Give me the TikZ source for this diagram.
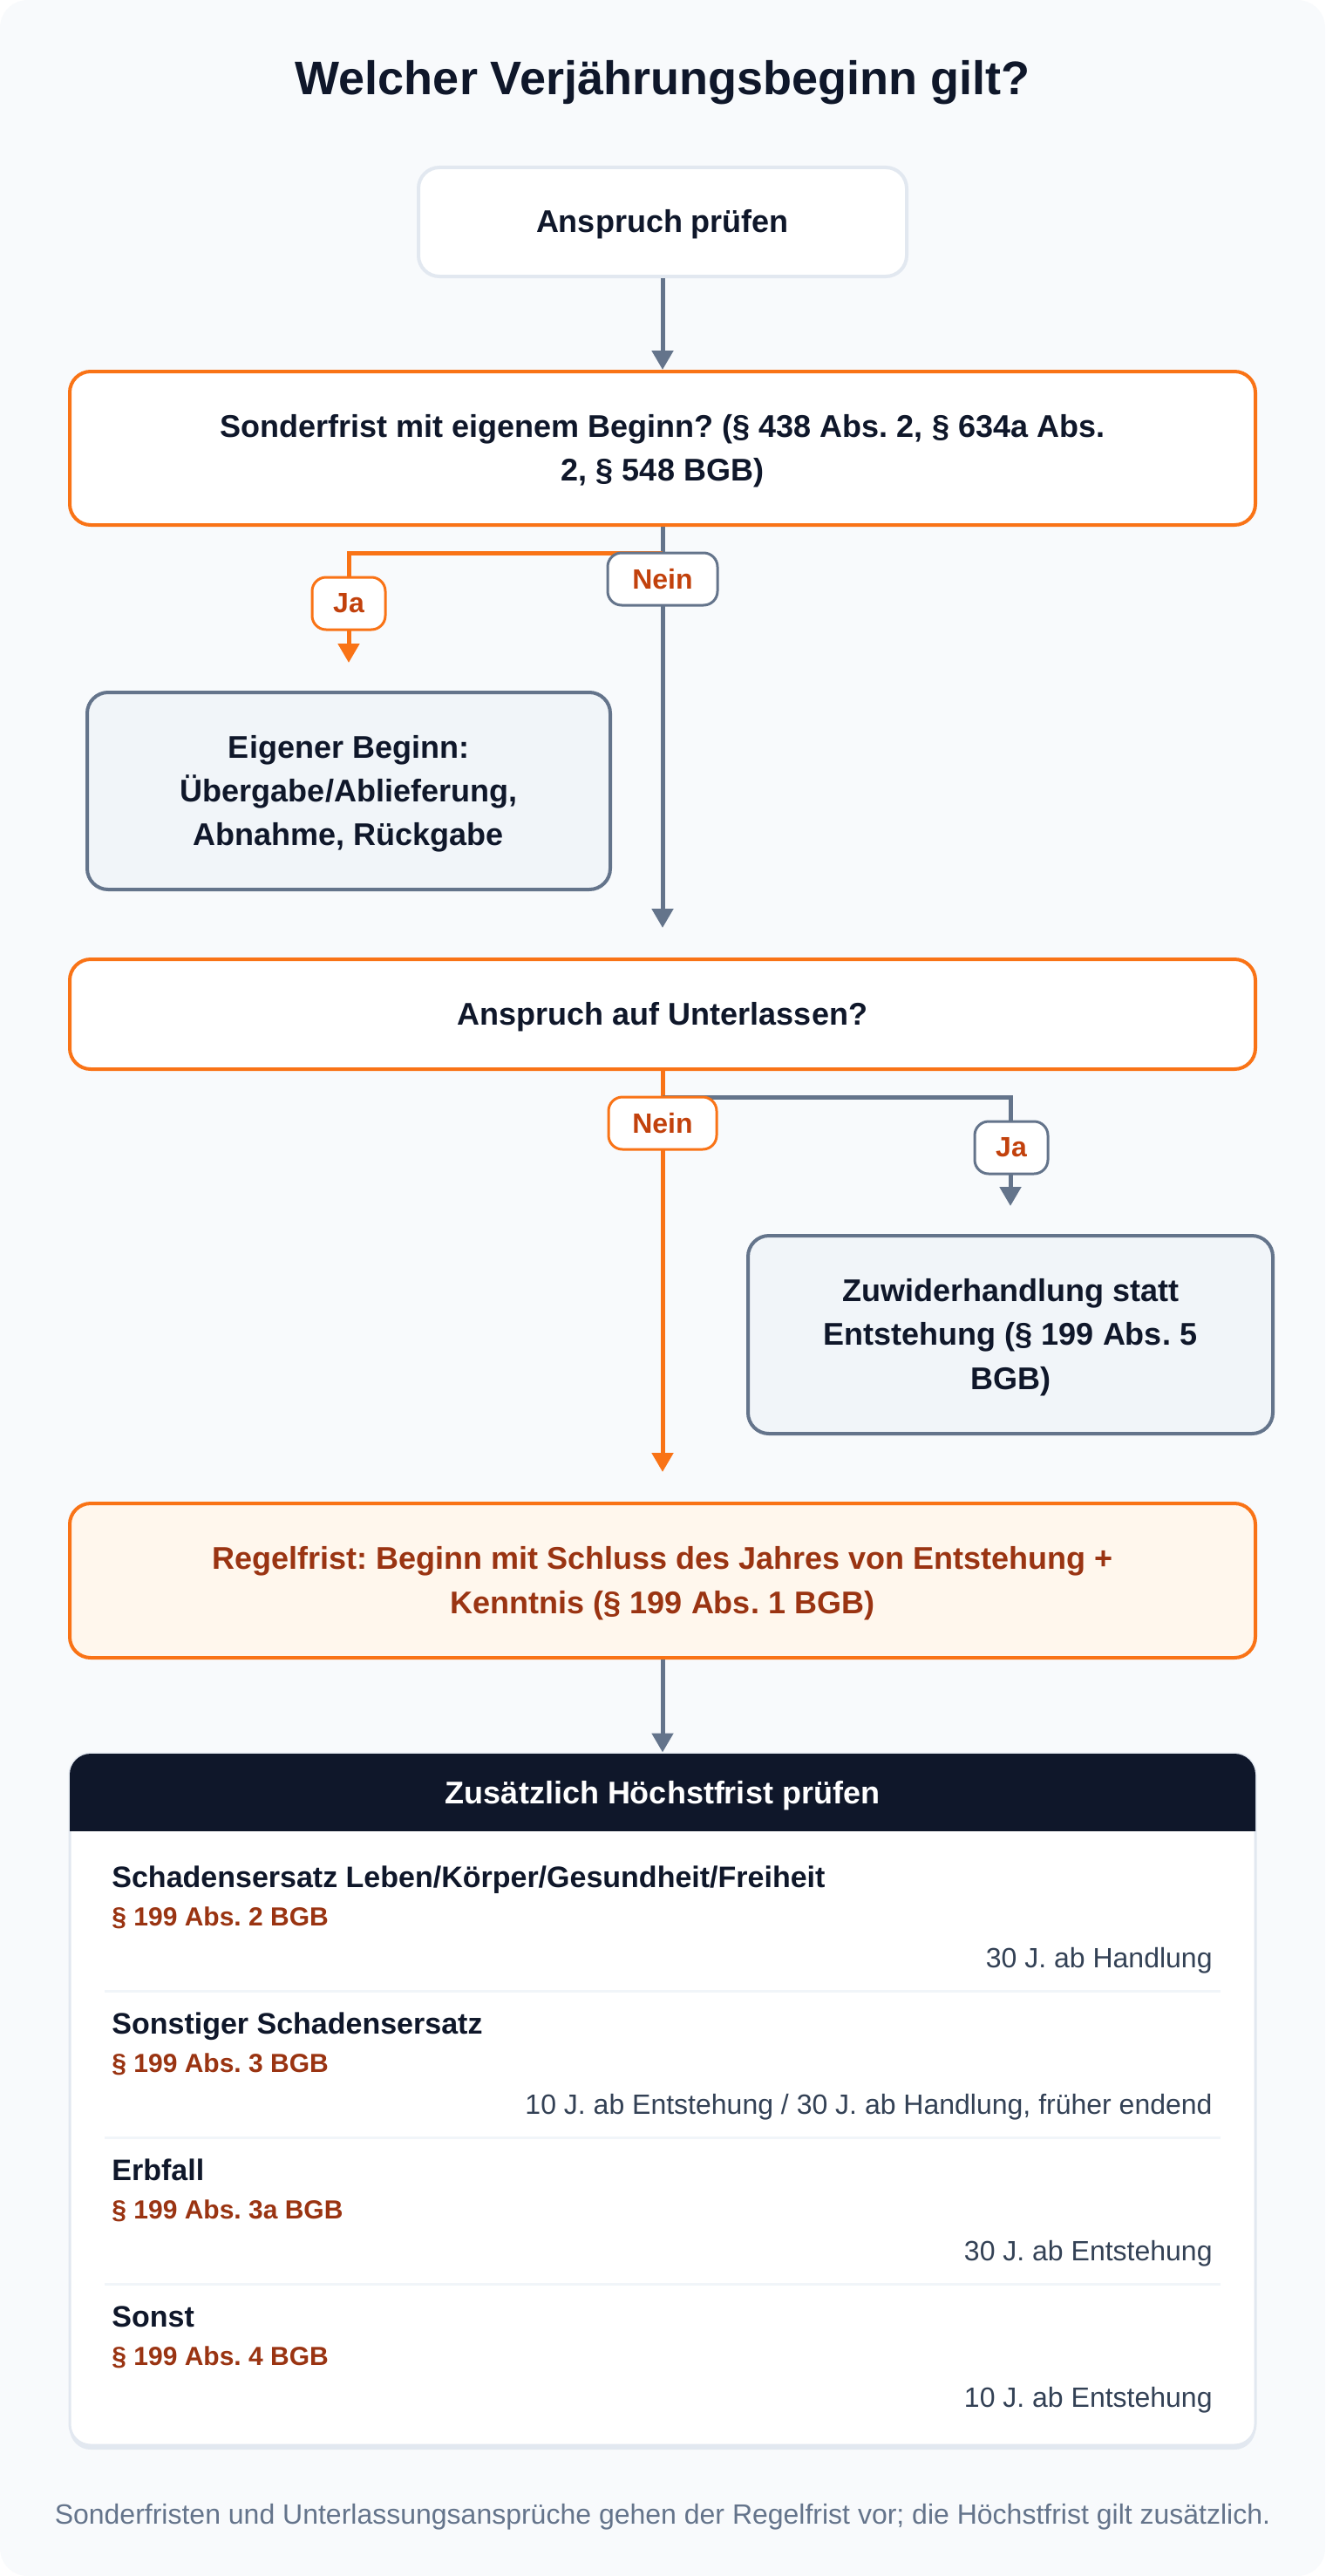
\documentclass[tikz,border=0pt]{standalone}
\usepackage{fontspec}
\setmainfont{Liberation Sans}
\usetikzlibrary{arrows.meta}
\frenchspacing
\definecolor{ink}{HTML}{0F172A}
\definecolor{bgc}{HTML}{F8FAFC}
\definecolor{orng}{HTML}{F97316}
\definecolor{slate}{HTML}{64748B}
\definecolor{lbltxt}{HTML}{C2410C}
\definecolor{rust}{HTML}{9A3412}
\definecolor{panel}{HTML}{F1F5F9}
\definecolor{edge}{HTML}{E2E8F0}
\definecolor{cream}{HTML}{FFF7ED}
\definecolor{valtxt}{HTML}{334155}
\newcommand\lsA{\rule[-6.37pt]{0pt}{25.2pt}}
\tikzset{
  box/.style={draw, rounded corners=12pt, line width=2pt, inner sep=0pt, align=center, text=ink,
    font=\fontsize{18pt}{25.2pt}\selectfont\bfseries\frenchspacing},
  startbox/.style={box, draw=edge, fill=white},
  qbox/.style={box, draw=orng, fill=white},
  infobox/.style={box, draw=slate, fill=panel},
  rulebox/.style={box, draw=orng, fill=cream, text=rust},
  arr/.style={-{Triangle[width=12pt,length=11pt]}},
  sline/.style={draw=slate, line width=2.5pt, arr},
  oline/.style={draw=orng, line width=2.5pt, arr},
  lbl/.style={fill=white, line width=1.5pt, rounded corners=8pt, minimum height=30pt, inner sep=0pt,
    text=lbltxt, font=\fontsize{16pt}{19pt}\selectfont\bfseries},
  lblo/.style={lbl, draw=orng},
  lbls/.style={lbl, draw=slate},
  rowtitle/.style={anchor=base west, inner sep=0pt, text=ink, font=\fontsize{17pt}{20pt}\selectfont\bfseries\frenchspacing},
  rowsub/.style={anchor=base west, inner sep=0pt, text=rust, font=\fontsize{15pt}{18pt}\selectfont\bfseries\frenchspacing},
  rowval/.style={anchor=base east, inner sep=0pt, text=valtxt, font=\fontsize{16pt}{19pt}\selectfont\frenchspacing},
  sepline/.style={draw=panel, line width=1.5pt},
}
\begin{document}
\begin{tikzpicture}[x=1pt,y=-1pt]
\useasboundingbox (0,0) rectangle (760,1477);
\fill[white] (0,0) rectangle (760,1477);
\fill[bgc, rounded corners=16pt] (0,0) rectangle (760,1477);

% title
\node[anchor=base, inner sep=0pt, text=ink, font=\fontsize{27pt}{31pt}\selectfont\bfseries] (title) at (380,54.2) {Welcher Verjährungsbeginn gilt?};

% boxes
\node[startbox, minimum width=280pt, minimum height=62.5pt] (b1) at (380,127.25) {\lsA Anspruch prüfen};
\node[qbox, minimum width=680pt, minimum height=88pt] (b2) at (380,257) {\lsA Sonderfrist mit eigenem Beginn? (§ 438 Abs. 2, § 634a Abs.\\\lsA 2, § 548 BGB)};
\node[infobox, minimum width=300pt, minimum height=113pt] (b3) at (200,453.5) {\lsA Eigener Beginn:\\\lsA Übergabe/Ablieferung,\\\lsA Abnahme, Rückgabe};
\node[qbox, minimum width=680pt, minimum height=63pt] (b4) at (380,581.5) {\lsA Anspruch auf Unterlassen?};
\node[infobox, minimum width=301pt, minimum height=113.5pt] (b5) at (579.5,765.25) {\lsA Zuwiderhandlung statt\\\lsA Entstehung (§ 199 Abs. 5\\\lsA BGB)};
\node[rulebox, minimum width=680pt, minimum height=88.5pt] (b6) at (380,906.25) {\lsA Regelfrist: Beginn mit Schluss des Jahres von Entstehung +\\\lsA Kenntnis (§ 199 Abs. 1 BGB)};

% table card
\fill[edge, rounded corners=12pt] (40,1008) rectangle (720,1404.5);
\node[draw=edge, fill=white, line width=1.5pt, rounded corners=12pt, inner sep=0pt, minimum width=680pt, minimum height=396.5pt] (tbl) at (380,1203.75) {};
\begin{scope}
  \clip[rounded corners=12pt] (40,1005.5) rectangle (720,1402);
  \fill[ink] (39,1004.5) rectangle (721,1050);
\end{scope}
\node[anchor=base, inner sep=0pt, text=white, font=\fontsize{18pt}{22pt}\selectfont\bfseries] (hd) at (380,1034) {Zusätzlich Höchstfrist prüfen};

% rows
\node[rowtitle] (r1t) at (64,1082) {Schadensersatz Leben/Körper/Gesundheit/Freiheit};
\node[rowsub] (r1s) at (64,1104) {§ 199 Abs. 2 BGB};
\node[rowval] (r1v) at (695.5,1128) {30 J. ab Handlung};
\draw[sepline] (60,1141.5) -- (700,1141.5);
\node[rowtitle] (r2t) at (64,1166) {Sonstiger Schadensersatz};
\node[rowsub] (r2s) at (64,1188) {§ 199 Abs. 3 BGB};
\node[rowval] (r2v) at (695.5,1212) {10 J. ab Entstehung / 30 J. ab Handlung, früher endend};
\draw[sepline] (60,1225.5) -- (700,1225.5);
\node[rowtitle] (r3t) at (64,1250) {Erbfall};
\node[rowsub] (r3s) at (64,1272) {§ 199 Abs. 3a BGB};
\node[rowval] (r3v) at (695.5,1296) {30 J. ab Entstehung};
\draw[sepline] (60,1309.5) -- (700,1309.5);
\node[rowtitle] (r4t) at (64,1334) {Sonst};
\node[rowsub] (r4s) at (64,1356) {§ 199 Abs. 4 BGB};
\node[rowval] (r4v) at (695.5,1380) {10 J. ab Entstehung};

% connectors
\coordinate (j1) at (380,317);
\coordinate (j2) at (380,629);
\draw[sline] (b1.south) -- (b2.north);
\draw[sline, shorten >=17pt] (b2.south) -- (b4.north);
\draw[oline, shorten >=16pt] (j1) -| (b3.north);
\draw[oline, shorten >=17pt] (b4.south) -- (b6.north);
\draw[sline, shorten >=16pt] (j2) -| (b5.north);
\draw[sline] (b6.south) -- (tbl.north);

% labels
\node[lbls, minimum width=63pt] (nein1) at (380,332) {Nein};
\node[lblo, minimum width=42pt] (ja1) at (200,346) {Ja};
\node[lblo, minimum width=62pt] (nein2) at (380,644) {Nein};
\node[lbls, minimum width=42pt] (ja2) at (580,658) {Ja};

% footer
\node[anchor=base, inner sep=0pt, text=slate, font=\fontsize{16pt}{19pt}\selectfont\frenchspacing] (foot) at (380,1447) {Sonderfristen und Unterlassungsansprüche gehen der Regelfrist vor; die Höchstfrist gilt zusätzlich.};
\end{tikzpicture}
\end{document}
